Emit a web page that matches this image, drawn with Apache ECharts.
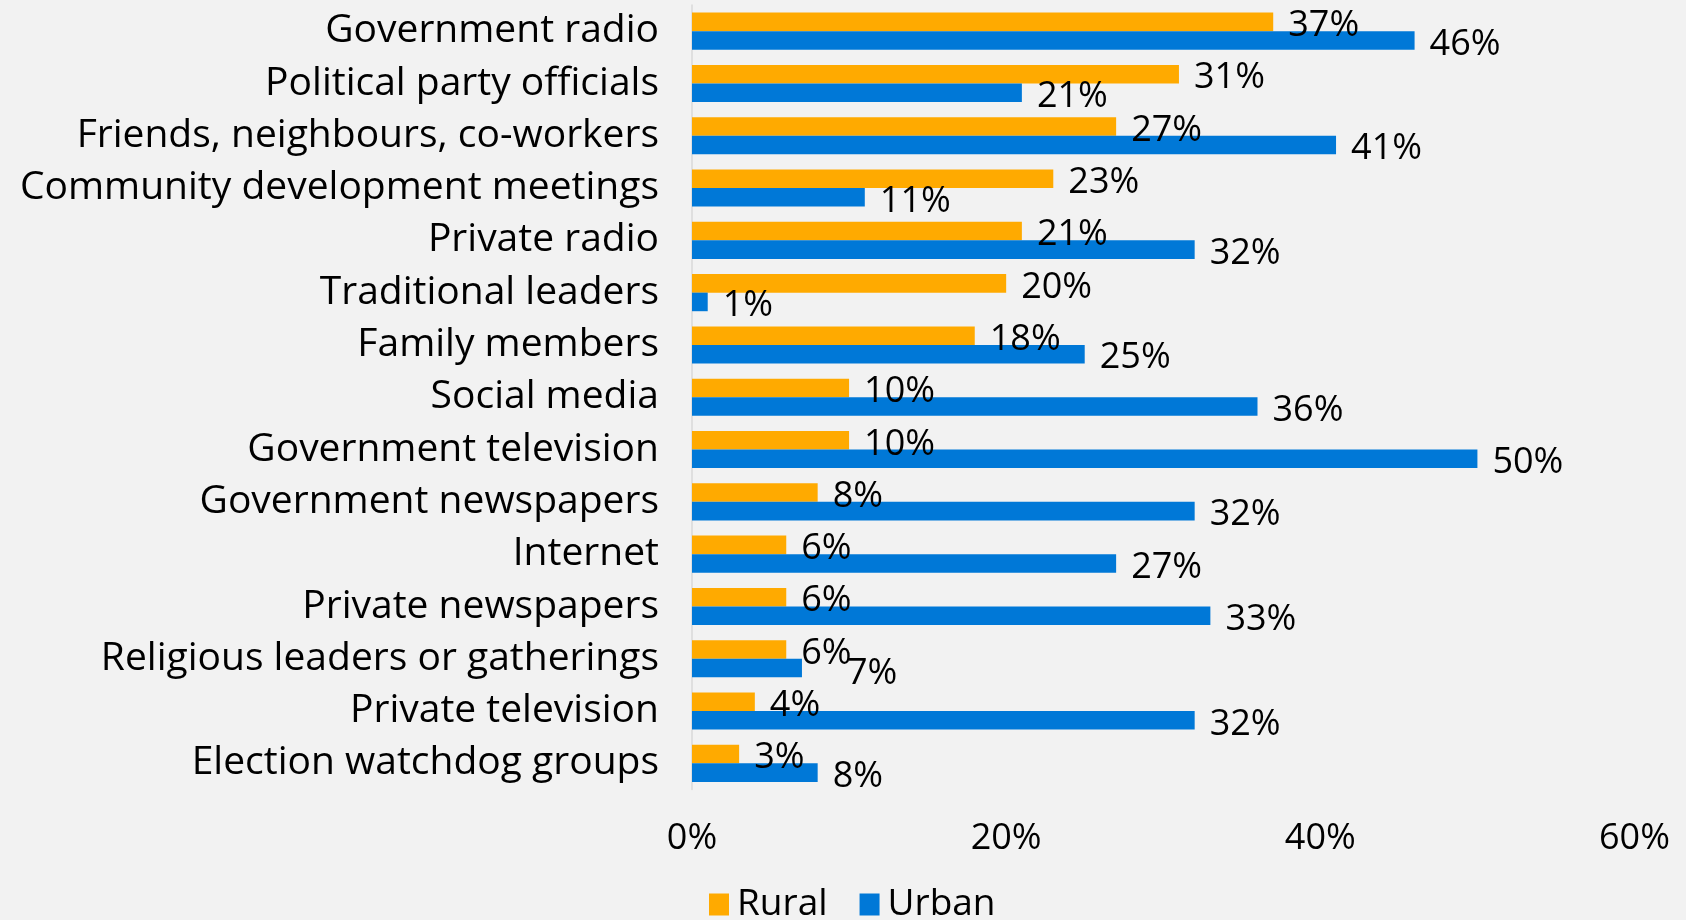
<!DOCTYPE html>
<html>
<head>
<meta charset="utf-8">
<script src="https://cdn.jsdelivr.net/npm/echarts@6/dist/echarts.min.js"></script>
<style>
html,body{margin:0;padding:0;background:#f2f2f2;}
#chart{width:1686px;height:920px;}
</style>
</head>
<body>
<div id="chart"></div>
<script>
const categories = [
  "Government radio",
  "Political party officials",
  "Friends, neighbours, co-workers",
  "Community development meetings",
  "Private radio",
  "Traditional leaders",
  "Family members",
  "Social media",
  "Government television",
  "Government newspapers",
  "Internet",
  "Private newspapers",
  "Religious leaders or gatherings",
  "Private television",
  "Election watchdog groups"
];
const rural = [37, 31, 27, 23, 21, 20, 18, 10, 10, 8, 6, 6, 6, 4, 3];
const urban = [46, 21, 41, 11, 32, 1, 25, 36, 50, 32, 27, 33, 7, 32, 8];
const seriesNames = ["Rural", "Urban"];
const xTicks = { min: 0, max: 60, interval: 20 };

const FONT = "Open Sans";
const chart = echarts.init(document.getElementById('chart'));
const labelStyle = {
  show: true,
  position: 'right',
  distance: 15,
  offset: [0, 4],
  color: '#000',
  fontFamily: FONT,
  fontSize: 36,
  formatter: p => p.value + '%'
};
// the "Religious leaders" urban label is moved right in the reference
const urbanData = urban.map((v, i) => i === 12
  ? { value: v, label: { offset: [30, 6] } }
  : v);

chart.setOption({
  backgroundColor: '#f2f2f2',
  animation: false,
  grid: { left: 692, right: 51.5, top: 5, bottom: 130.5 },
  legend: {
    data: seriesNames,
    bottom: -8,
    left: 704,
    itemWidth: 20,
    itemHeight: 22,
    itemGap: 32,
    icon: 'rect',
    textStyle: { fontFamily: FONT, fontSize: 37, color: '#000', padding: [0, 0, 0, 3] }
  },
  xAxis: {
    type: 'value',
    min: xTicks.min,
    max: xTicks.max,
    interval: xTicks.interval,
    axisLine: { show: false },
    axisTick: { show: false },
    splitLine: { show: false },
    axisLabel: {
      formatter: '{value}%',
      color: '#000',
      fontFamily: FONT,
      fontSize: 36,
      margin: 31
    }
  },
  yAxis: {
    type: 'category',
    data: categories,
    inverse: true,
    axisLine: { show: true, lineStyle: { color: '#d9d9d9', width: 1.5 } },
    axisTick: { show: false },
    axisLabel: {
      color: '#000',
      fontFamily: FONT,
      fontSize: 39,
      margin: 33,
      padding: [8, 0, 0, 0]
    }
  },
  series: [
    {
      name: seriesNames[0],
      type: 'bar',
      data: rural,
      barGap: '0%',
      barCategoryGap: '29%',
      itemStyle: { color: '#FFAA00' },
      label: labelStyle
    },
    {
      name: seriesNames[1],
      type: 'bar',
      data: urbanData,
      barGap: '0%',
      barCategoryGap: '29%',
      itemStyle: { color: '#0078D7' },
      label: labelStyle
    }
  ]
});
</script>
</body>
</html>
